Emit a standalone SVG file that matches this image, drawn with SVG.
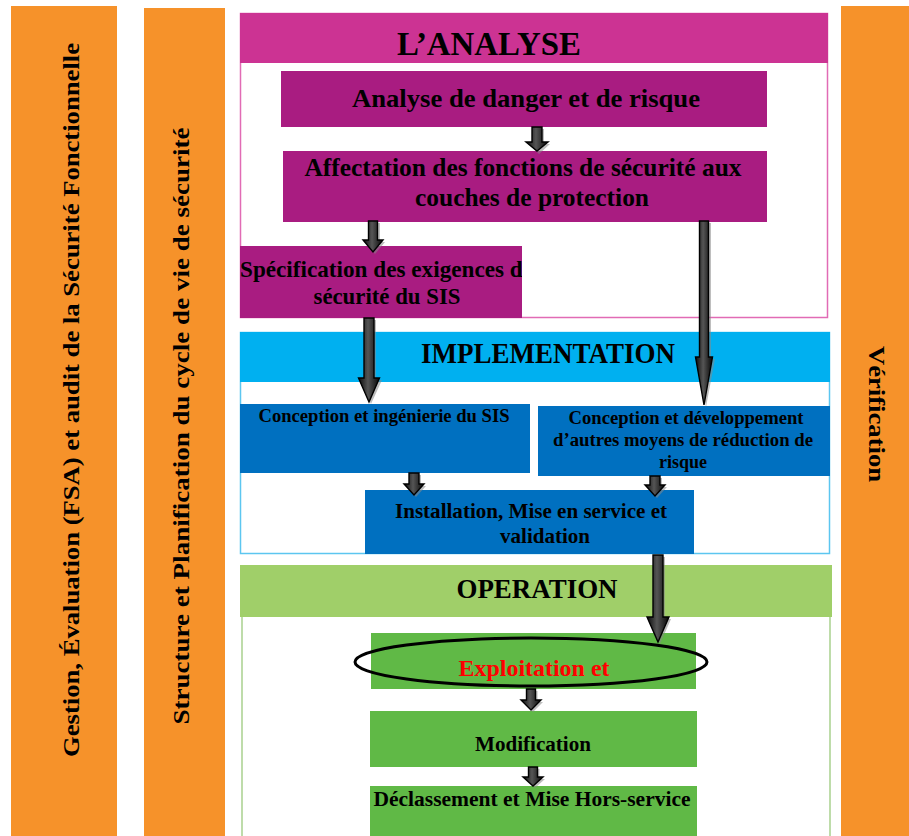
<svg xmlns="http://www.w3.org/2000/svg" width="909" height="836" viewBox="0 0 909 836">
  <style>
    .t { font-family: "Liberation Serif", "Times New Roman", serif; font-weight: bold; fill: #000; text-anchor: middle; }
    .side { fill: #F6922A; }
    .hdrA { fill: #CC3393; }
    .boxA { fill: #A91C81; }
    .hdrI { fill: #00B0F0; }
    .boxI { fill: #0070C0; }
    .hdrO { fill: #A0CF69; }
    .boxO { fill: #60B946; }
    .arrow { fill: url(#arrowFill); stroke: #000; stroke-width: 1.4; stroke-linejoin: miter; }
    .shadow { fill: #888; opacity: 0.55; }
  </style>
  <defs>
    <linearGradient id="arrowFill" x1="0" y1="0" x2="1" y2="0">
      <stop offset="0" stop-color="#0a0a0a"/>
      <stop offset="0.45" stop-color="#555"/>
      <stop offset="1" stop-color="#050505"/>
    </linearGradient>
    <clipPath id="specClip">
      <rect x="240" y="246" width="282" height="72"/>
    </clipPath>
  </defs>

  <rect width="909" height="836" fill="#fff"/>

  <!-- side columns -->
  <g id="col-gestion">
    <rect class="side" x="11" y="6" width="106" height="830"/>
    <text class="t" font-size="24" transform="translate(79,400) rotate(-90)" textLength="714" lengthAdjust="spacingAndGlyphs">Gestion, Évaluation (FSA) et audit de la Sécurité Fonctionnelle</text>
  </g>
  <g id="col-structure">
    <rect class="side" x="144" y="8" width="81" height="828"/>
    <text class="t" font-size="24" transform="translate(189,426) rotate(-90)" textLength="597" lengthAdjust="spacingAndGlyphs">Structure  et Planification du cycle de vie de sécurité</text>
  </g>
  <g id="col-verification">
    <rect class="side" x="841" y="6" width="68" height="830"/>
    <text class="t" font-size="24" transform="translate(869,414) rotate(90)" textLength="136" lengthAdjust="spacingAndGlyphs">Vérification</text>
  </g>

  <!-- analysis phase -->
  <g id="phase-analyse">
    <rect x="240.5" y="13.5" width="587" height="304" fill="#fff" stroke="#E16BB5" stroke-width="1.5"/>
    <rect class="hdrA" x="240" y="13" width="588" height="50"/>
    <text class="t" font-size="33" x="489" y="55" textLength="184" lengthAdjust="spacingAndGlyphs">L’ANALYSE</text>
  </g>
  <g id="node-danger">
    <rect class="boxA" x="281" y="71" width="486" height="56"/>
    <text class="t" font-size="25" x="526" y="107" textLength="348" lengthAdjust="spacingAndGlyphs">Analyse de danger et de risque</text>
  </g>
  <g id="node-affectation">
    <rect class="boxA" x="283" y="151" width="484" height="71"/>
    <text class="t" font-size="25" x="523" y="176" textLength="437" lengthAdjust="spacingAndGlyphs">Affectation des fonctions de sécurité aux</text>
    <text class="t" font-size="25" x="532" y="206" textLength="234" lengthAdjust="spacingAndGlyphs">couches de protection</text>
  </g>
  <g id="node-specification">
    <rect class="boxA" x="240" y="246" width="282" height="72"/>
    <g clip-path="url(#specClip)">
      <text class="t" font-size="23" x="240" y="277" style="text-anchor:start" textLength="293" lengthAdjust="spacingAndGlyphs">Spécification des exigences de</text>
    </g>
    <text class="t" font-size="23" x="387" y="304" textLength="147" lengthAdjust="spacingAndGlyphs">sécurité du SIS</text>
  </g>

  <!-- implementation phase -->
  <g id="phase-implementation">
    <rect x="240.5" y="332.5" width="589" height="221" fill="#fff" stroke="#5CC6F0" stroke-width="1.5"/>
    <rect class="hdrI" x="240" y="332" width="590" height="50"/>
    <text class="t" font-size="29" x="548" y="363" textLength="254" lengthAdjust="spacingAndGlyphs">IMPLEMENTATION</text>
  </g>
  <g id="node-conception-sis">
    <rect class="boxI" x="240" y="404" width="290" height="69"/>
    <text class="t" font-size="18" x="384" y="422" textLength="251" lengthAdjust="spacingAndGlyphs">Conception et ingénierie du SIS</text>
  </g>
  <g id="node-conception-autres">
    <rect class="boxI" x="538" y="406" width="292" height="70"/>
    <text class="t" font-size="18" x="686" y="424" textLength="235" lengthAdjust="spacingAndGlyphs">Conception et développement</text>
    <text class="t" font-size="18" x="683" y="446" textLength="260" lengthAdjust="spacingAndGlyphs">d’autres moyens de réduction de</text>
    <text class="t" font-size="18" x="683" y="468" textLength="48" lengthAdjust="spacingAndGlyphs">risque</text>
  </g>
  <g id="node-installation">
    <rect class="boxI" x="365" y="490" width="329" height="64"/>
    <text class="t" font-size="21" x="531" y="518" textLength="272" lengthAdjust="spacingAndGlyphs">Installation, Mise en service et</text>
    <text class="t" font-size="21" x="545" y="543" textLength="90" lengthAdjust="spacingAndGlyphs">validation</text>
  </g>

  <!-- operation phase -->
  <g id="phase-operation">
    <line x1="242" y1="617" x2="242" y2="836" stroke="#A9D18E" stroke-width="1.5"/>
    <line x1="830" y1="617" x2="830" y2="836" stroke="#A9D18E" stroke-width="1.5"/>
    <rect class="hdrO" x="240" y="565" width="592" height="52"/>
    <text class="t" font-size="27" x="537" y="598" textLength="161" lengthAdjust="spacingAndGlyphs">OPERATION</text>
  </g>
  <g id="node-exploitation">
    <rect class="boxO" x="371" y="633" width="325" height="56"/>
    <text class="t" font-size="23" x="534" y="676" style="fill:#FF0000" textLength="151" lengthAdjust="spacingAndGlyphs">Exploitation et</text>
    <ellipse cx="531" cy="662" rx="176" ry="24" fill="none" stroke="#000" stroke-width="3"/>
  </g>
  <g id="node-modification">
    <rect class="boxO" x="370" y="711" width="327" height="56"/>
    <text class="t" font-size="22" x="533" y="751" textLength="116" lengthAdjust="spacingAndGlyphs">Modification</text>
  </g>
  <g id="node-declassement">
    <rect class="boxO" x="370" y="786" width="327" height="50"/>
    <text class="t" font-size="22" x="532" y="806" textLength="317" lengthAdjust="spacingAndGlyphs">Déclassement et Mise Hors-service</text>
  </g>

  <!-- block arrows between the steps -->
  <g id="connectors">
    <path class="shadow" d="M534,129 H544 V144 H550 L539,154 L529,144 H534 Z"/>
    <path class="arrow" d="M532,127 H542 V142 H548 L537,151 L526,142 H532 Z"/>

    <path class="shadow" d="M371,223 H380 V242 H385 L375,254 L365,242 H371 Z"/>
    <path class="arrow" d="M368.5,221 H377.5 V240 H383 L373,252 L363,240 H368.5 Z"/>

    <path class="shadow" d="M702,223 H711 V359 H715 L706,407 L697,359 H702 Z"/>
    <path class="arrow" d="M699.5,221 H708.5 V357 H712.5 L704,405 L695.5,357 H699.5 Z"/>

    <path class="shadow" d="M366,320 H376 V380 H382 L371,404 L360,380 H366 Z"/>
    <path class="arrow" d="M364,318 H374 V378 H379.5 L369,402 L358.5,378 H364 Z"/>

    <path class="shadow" d="M411,475 H421 V486 H426 L416,497 L406,486 H411 Z"/>
    <path class="arrow" d="M409,473 H419 V484 H424 L414,495 L404,484 H409 Z"/>

    <path class="shadow" d="M652,478 H662 V487 H667 L657,498 L647,487 H652 Z"/>
    <path class="arrow" d="M650,476 H660 V485 H665 L655,496 L645,485 H650 Z"/>

    <path class="shadow" d="M655,557 H665 V619 H671 L660,644 L649,619 H655 Z"/>
    <path class="arrow" d="M653,555 H663 V617 H669 L658,642 L647,617 H653 Z"/>

    <path class="shadow" d="M528.5,691 H537.5 V702 H543 L533,712 L523,702 H528.5 Z"/>
    <path class="arrow" d="M526.5,689 H535.5 V700 H541 L531,710 L521,700 H526.5 Z"/>

    <path class="shadow" d="M530.5,769 H539.5 V779 H545 L535,788 L525,779 H530.5 Z"/>
    <path class="arrow" d="M528.5,767 H537.5 V777 H543 L533,786 L523,777 H528.5 Z"/>
  </g>
</svg>
